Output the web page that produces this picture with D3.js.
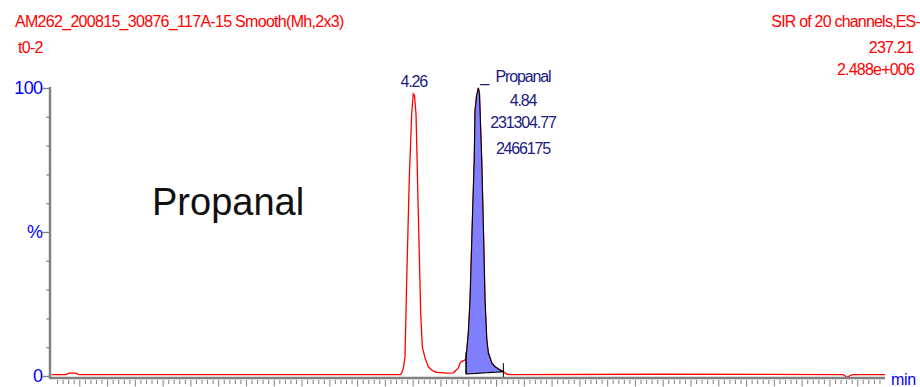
<!DOCTYPE html>
<html>
<head>
<meta charset="utf-8">
<script src="https://cdn.jsdelivr.net/npm/d3@7"></script>
<style>
  html, body { margin: 0; padding: 0; background: #fff; }
  svg { display: block; font-family: "Liberation Sans", Arial, sans-serif; }
</style>
</head>
<body>
<svg id="chart" width="920" height="387"></svg>
<script>
// Chromatogram trace: retention time (min) and relative intensity (%)
const traceTime = [
  1.000, 1.130, 1.157, 1.220, 1.247, 2.500, 4.136, 4.151, 4.167, 4.181,
  4.196, 4.219, 4.241, 4.255, 4.266, 4.280, 4.301, 4.322, 4.337, 4.361,
  4.391, 4.421, 4.460, 4.496, 4.559, 4.616, 4.640, 4.660, 4.676, 4.691,
  4.721, 4.730, 4.751, 4.766, 4.788, 4.804, 4.811, 4.824, 4.841, 4.851,
  4.856, 4.871, 4.887, 4.901, 4.917, 4.931, 4.962, 4.991, 5.036, 5.066,
  5.099, 5.126, 6.500, 8.122, 8.149, 8.167, 8.195, 8.212, 8.500
];
const traceIntensity = [
  0.5, 0.5, 1.0, 1.0, 0.5, 0.5, 0.5, 1.0, 3.0, 6.6,
  33, 68, 91, 98, 97.5, 91, 56, 22, 10, 6.3,
  3.2, 2.1, 1.3, 1.2, 1.0, 1.1, 2.0, 2.7, 4.5, 5.0,
  5.6, 6.0, 15, 26, 55, 75, 92, 97, 100, 98,
  92, 75, 50, 26, 12.5, 8.0, 4.5, 3.2, 2.1, 1.5,
  0.6, 0.5, 0.6, 0.5, -0.2, -0.3, 0.3, 0.5, 0.5
];

// Integrated peak: start/end retention time and baseline level (%)
const peakStart = [4.730, 0.7];
const peakEnd = [5.066, 1.5];

// Peak annotations
const apexLabel = { time: 4.26, text: "4.26" };
const peakLabelLines = ["Propanal", "4.84", "231304.77", "2466175"];
const peakLabelTime = 4.84;

// Header text
const headerLeft = ["AM262_200815_30876_117A-15 Smooth(Mh,2x3)", "t0-2"];
const headerRight = ["SIR of 20 channels,ES-", "237.21", "2.488e+006"];
const compoundName = "Propanal";

// Axis ticks
const yTicks = d3.range(0, 101, 10);
const yTickText = { 0: "0", 50: "%", 100: "100" };
const xMinorTicks = d3.range(1, 150).map(i => +(1 + i * 0.05).toFixed(2));

const svg = d3.select("#chart");
const x = d3.scaleLinear().domain([1, 8.5]).range([51.5, 885]);
const y = d3.scaleLinear().domain([0, 100]).range([376, 88]);

const red = "#ff0000", navy = "#1a1a80", blue = "#0000ff", grey = "#808080";

// Trace
const pts = traceTime.map((t, i) => [t, traceIntensity[i]]);
svg.append("path")
  .datum(pts)
  .attr("fill", "none")
  .attr("stroke", red)
  .attr("stroke-width", 1.3)
  .attr("d", d3.line().x(d => x(d[0])).y(d => y(d[1])));

// Integrated area between trace and straight baseline
const baseAt = t => peakStart[1] + (peakEnd[1] - peakStart[1]) * (t - peakStart[0]) / (peakEnd[0] - peakStart[0]);
const areaPts = pts.filter(d => d[0] >= peakStart[0] - 1e-9 && d[0] <= peakEnd[0] + 1e-9);
svg.append("path")
  .datum(areaPts)
  .attr("fill", "#8080ff")
  .attr("stroke", "#000")
  .attr("stroke-width", 1.1)
  .attr("stroke-linejoin", "round")
  .attr("d", d3.area().x(d => x(d[0])).y0(d => y(baseAt(d[0]))).y1(d => y(d[1])));

// Peak start / end markers
svg.append("line").attr("x1", x(peakStart[0])).attr("x2", x(peakStart[0]))
  .attr("y1", y(6) - 7).attr("y2", y(peakStart[1]))
  .attr("stroke", "#000").attr("stroke-width", 1);
svg.append("line").attr("x1", x(peakEnd[0])).attr("x2", x(peakEnd[0]))
  .attr("y1", y(peakEnd[1]) - 8.5).attr("y2", y(peakEnd[1]) + 5.5)
  .attr("stroke", "#000").attr("stroke-width", 1);

// X axis line and ticks
svg.append("line").attr("x1", 50).attr("x2", 885).attr("y1", 378).attr("y2", 378)
  .attr("stroke", grey).attr("stroke-width", 2.4);
const xAxis = svg.append("g").attr("transform", "translate(0,380)")
  .call(d3.axisBottom(x).tickValues(xMinorTicks.filter(t => t < 8.5)).tickSize(4).tickFormat(""));
xAxis.select(".domain").remove();
xAxis.selectAll(".tick line")
  .attr("stroke", grey)
  .attr("y2", d => (Math.round(d * 100) % 25 === 0) ? 6.5 : 4);

// Y axis
svg.append("line").attr("x1", 50).attr("x2", 50).attr("y1", 87).attr("y2", 379)
  .attr("stroke", grey).attr("stroke-width", 2.4);
const yAxis = svg.append("g").attr("transform", "translate(50,0)")
  .call(d3.axisLeft(y).tickValues(yTicks).tickSize(3.5).tickPadding(1).tickFormat(d => yTickText[d] || ""));
yAxis.select(".domain").remove();
yAxis.selectAll(".tick line").attr("stroke", grey).attr("stroke-width", 1.3)
  .attr("x2", d => yTickText[d] ? -7.5 : -3.5);
yAxis.selectAll(".tick text")
  .attr("x", -7.5)
  .attr("fill", blue)
  .style("font-size", "18px")
  .style("letter-spacing", "-0.6px")
  .style("font-family", "'Liberation Sans', Arial, sans-serif");

svg.append("text").attr("x", 891).attr("y", 385).attr("fill", blue)
  .style("font-size", "16px").style("letter-spacing", "-0.3px").text("min");

// Header
const hl = svg.append("g").attr("fill", red).style("font-size", "16px").style("letter-spacing", "-0.7px");
hl.append("text").attr("x", 15).attr("y", 27).text(headerLeft[0]);
hl.append("text").attr("x", 18).attr("y", 53).text(headerLeft[1]);
const hr = svg.append("g").attr("fill", red).attr("text-anchor", "end")
  .style("font-size", "16px").style("letter-spacing", "-0.8px");
hr.append("text").attr("x", 920).attr("y", 27).text(headerRight[0]);
hr.append("text").attr("x", 913).attr("y", 53).text(headerRight[1]);
hr.append("text").attr("x", 914).attr("y", 75).text(headerRight[2]);

// Peak labels
svg.append("text").attr("x", x(apexLabel.time)).attr("y", 87).attr("text-anchor", "middle")
  .attr("fill", navy).style("font-size", "16px").style("letter-spacing", "-1.1px").text(apexLabel.text);
svg.append("text").attr("x", x(peakLabelTime) + 2).attr("y", 82).attr("fill", navy)
  .style("font-size", "16px").text("_");
const pl = svg.append("g").attr("fill", navy).attr("text-anchor", "middle")
  .style("font-size", "16px").style("letter-spacing", "-1.15px");
peakLabelLines.forEach((s, i) => {
  pl.append("text").attr("x", 523).attr("y", [82, 106, 128, 154][i]).text(s);
});

// Compound name
svg.append("text").attr("x", 152).attr("y", 215).attr("fill", "#111")
  .style("font-size", "38px").text(compoundName);
</script>
</body>
</html>
